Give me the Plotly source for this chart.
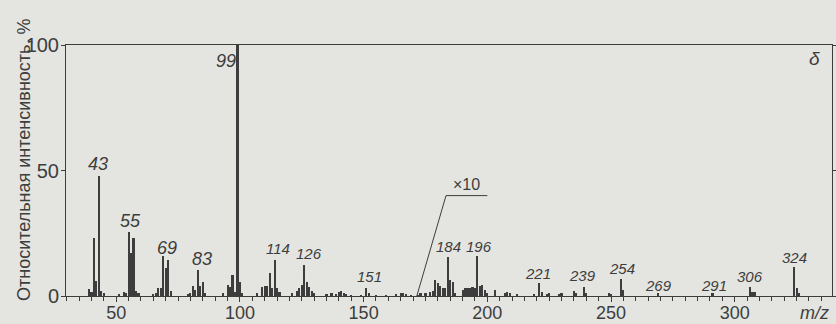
import plotly.graph_objects as go

# ---- data: m/z and relative intensity (%) ----
mz_low = [39, 40, 41, 42, 43, 44, 45, 51, 53, 54, 55, 56, 57, 58, 59, 65, 66, 67, 68, 69, 70, 71, 72,
          79, 80, 81, 82, 83, 84, 85, 86, 93, 95, 96, 97, 98, 99, 100, 101,
          107, 109, 110, 111, 112, 113, 114, 115, 116, 121, 123, 124, 125, 126, 127, 128, 129, 130,
          135, 137, 139, 140, 141, 142, 143, 145, 149, 151, 152, 155, 159, 163, 165, 166, 167, 169]
int_low = [2.6, 1.5, 23, 6, 48, 2, 1, 0.8, 1.5, 1.2, 25.5, 17, 23, 2, 1, 0.8, 1, 3, 3, 16, 11, 14.5, 2,
           0.8, 1, 4, 2.5, 10.5, 4, 5.5, 1, 1, 4.5, 3.5, 8.2, 1.5, 100, 5.5, 1,
           1, 3.5, 4, 4, 9, 3, 14.5, 3, 1.5, 1, 2, 3, 4.5, 12.5, 5.5, 3.5, 2, 1,
           0.8, 1, 0.8, 1.5, 1.8, 1.2, 0.8, 0.5, 0.5, 3.3, 1, 0.5, 0.5, 0.8, 1.2, 1, 0.8, 0.5]

# region drawn magnified x10 (true intensities)
MAGNIFY = 10
mz_high = [172, 173, 175, 177, 178, 179, 180, 181, 182, 183, 184, 185, 186, 187,
           190, 191, 192, 193, 194, 195, 196, 197, 198, 199, 200, 203, 207, 208, 209, 212,
           219, 221, 222, 224, 225, 229, 230, 235, 236, 239, 240, 249, 250, 254, 255,
           269, 291, 306, 307, 308, 324, 325, 326]
int_high = [0.05, 0.1, 0.1, 0.15, 0.2, 0.65, 0.5, 0.4, 0.3, 0.3, 1.57, 0.62, 0.55, 0.1,
            0.25, 0.3, 0.3, 0.3, 0.35, 0.3, 1.58, 0.4, 0.45, 0.25, 0.1, 0.25, 0.12, 0.15, 0.1, 0.08,
            0.08, 0.5, 0.15, 0.08, 0.1, 0.08, 0.1, 0.2, 0.1, 0.35, 0.1, 0.1, 0.08, 0.67, 0.25,
            0.1, 0.1, 0.37, 0.15, 0.15, 1.15, 0.3, 0.1]

peak_labels = ["43", "55", "69", "83", "99", "114", "126", "151", "184", "196",
               "221", "239", "254", "269", "291", "306", "324"]
label_x = [42.8, 55.8, 70.5, 84.5, 94.5, 115.3, 127.8, 152.2, 184.5, 196.5,
           220.5, 238.5, 254.5, 269, 291.5, 306, 324.2]
label_y = [52.7, 30, 19.3, 14.9, 93.7, 18.9, 17, 7.8, 19.7, 19.7,
           9, 8.2, 10.8, 4.2, 4.2, 7.8, 15.4]

y_ticks = [0, 50, 100]
x_ticks = [50, 100, 150, 200, 250, 300]

INK = "#3d3d3d"
BG = "#e4e5e0"
L, R, T, B = 66, 4, 45, 28
PW, PH = 836 - L - R, 324 - T - B

disp_high = [v * MAGNIFY for v in int_high]

fig = go.Figure()
fig.add_trace(go.Bar(x=mz_low + mz_high, y=int_low + disp_high, width=0.85,
                     marker=dict(color=INK, line=dict(width=0)), showlegend=False,
                     hoverinfo="skip"))

# x10 bracket
fig.add_shape(type="path", path="M 171.5 0 L 183.3 40 L 200 40", xref="x", yref="y",
              line=dict(color=INK, width=1))

anns = []
for t, x, y in zip(peak_labels, label_x, label_y):
    big = len(t) == 2
    anns.append(dict(x=x, y=y, xref="x", yref="y", text=t, showarrow=False,
                     xanchor="center", yanchor="middle",
                     font=dict(family="Liberation Sans", size=18 if big else 15,
                               color=INK, style="italic")))
anns.append(dict(x=191.7, y=44.5, xref="x", yref="y", text="×10", showarrow=False,
                 xanchor="center", yanchor="middle",
                 font=dict(family="Liberation Sans", size=16, color=INK)))
anns.append(dict(x=(814 - L) / PW, y=(324 - B - 59) / PH, xref="paper", yref="paper",
                 text="δ", showarrow=False, xanchor="center", yanchor="middle",
                 font=dict(family="Liberation Sans", size=19, color=INK, style="italic")))
anns.append(dict(x=(814 - L) / PW, y=-(313 - (324 - B)) / PH, xref="paper", yref="paper",
                 text="m/z", showarrow=False, xanchor="center", yanchor="middle",
                 font=dict(family="Liberation Sans", size=18, color=INK, style="italic")))
anns.append(dict(x=(24 - L) / PW, y=((324 - B) - 160) / PH, xref="paper", yref="paper",
                 text="Относительная интенсивность, %", showarrow=False, textangle=-90,
                 xanchor="center", yanchor="middle",
                 font=dict(family="Liberation Sans", size=18, color=INK)))

fig.update_layout(
    width=836, height=324,
    margin=dict(l=L, r=R, t=T, b=B, autoexpand=False),
    paper_bgcolor=BG, plot_bgcolor=BG,
    bargap=0,
    font=dict(family="Liberation Sans", color=INK),
    annotations=anns,
    xaxis=dict(range=[29.7, 29.7 + PW / 2.474], tickmode="array", tickvals=x_ticks,
               ticktext=[str(v) for v in x_ticks], automargin=False,
               showgrid=False, zeroline=False, showline=True, linecolor=INK, linewidth=1,
               mirror=True, ticks="outside", ticklen=5, tickcolor=INK, ticklabelstandoff=-5,
               minor=dict(dtick=5, tick0=0, ticks="outside", ticklen=4, tickcolor=INK, showgrid=False),
               tickfont=dict(size=18, color=INK)),
    yaxis=dict(range=[0, 100], tickmode="array", tickvals=y_ticks, automargin=False,
               showgrid=False, zeroline=False, showline=True, linecolor=INK, linewidth=1,
               mirror="ticks", ticks="outside", ticklen=4, tickcolor=INK, ticklabelstandoff=-2,
               tickfont=dict(size=20, color=INK)),
)

fig.write_html("out.html", config={"displayModeBar": False, "staticPlot": True},
               post_script="document.body.style.margin='0';document.body.style.overflow='hidden';"
                           "document.body.style.background='%s';" % BG)
